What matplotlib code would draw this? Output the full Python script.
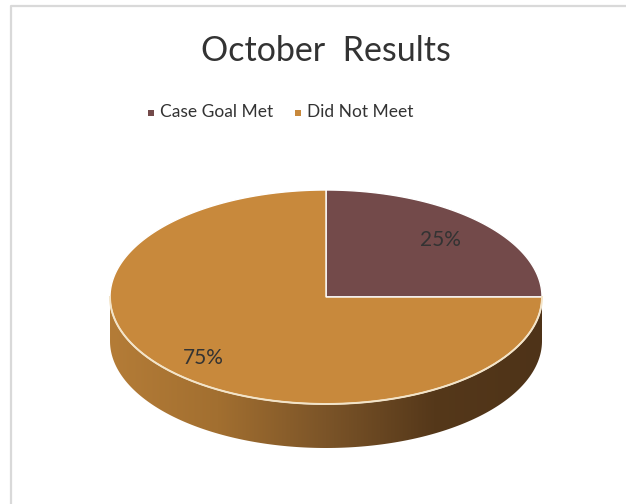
import numpy as np
import matplotlib.pyplot as plt
from matplotlib.patches import Polygon
from matplotlib.colors import LinearSegmentedColormap

# data
categories = ["Case Goal Met", "Did Not Meet"]
values = [25, 75]
slice_colors = ["#734A4A", "#C8893C"]
title = "October  Results"

# layout (pixels)
W, H = 626, 504
CX, CY = 326, 297
RX, RY = 216, 107
DEPTH = 44
FONT = ["Lato", "DejaVu Sans"]
TEXT = "#333333"

fig = plt.figure(figsize=(W / 100, H / 100), dpi=100)
ax = fig.add_axes([0, 0, 1, 1])
ax.set_xlim(0, W)
ax.set_ylim(H, 0)
ax.axis("off")


def rim(t, dy=0.0):
    return CX + RX * np.cos(t), CY - RY * np.sin(t) + dy


# chart frame
ax.plot([11, 11, W], [H, 6, 6], color="#D9D9D9", lw=1.6, solid_capstyle="butt")

# front side of the cylinder with a gradient
t = np.linspace(np.pi, 2 * np.pi, 200)
xt, yt = rim(t)
xb, yb = rim(t[::-1], DEPTH)
side = Polygon(np.column_stack([np.r_[xt, xb], np.r_[yt, yb]]),
               closed=True, facecolor="none", edgecolor="none")
ax.add_patch(side)
cmap = LinearSegmentedColormap.from_list(
    "side", ["#B47C37", "#A26F30", "#7B5428", "#55381A", "#4E3318"])
grad = np.linspace(0, 1, 256).reshape(1, -1)
im = ax.imshow(grad, cmap=cmap, aspect="auto",
               extent=[CX - RX, CX + RX, CY + RY + DEPTH + 2, CY - 2],
               interpolation="bilinear", zorder=1)
im.set_clip_path(side)

# top face wedges, clockwise from 12 o'clock
total = sum(values)
start = 90.0
label_pos = []
for val, col in zip(values, slice_colors):
    sweep = 360.0 * val / total
    th = np.radians(np.linspace(start, start - sweep, 200))
    px, py = rim(th)
    poly = Polygon(np.column_stack([np.r_[CX, px], np.r_[CY, py]]),
                   closed=True, facecolor=col, edgecolor="white", lw=1.0,
                   zorder=2)
    ax.add_patch(poly)
    mid = np.radians(start - sweep / 2)
    label_pos.append((mid, val))
    start -= sweep

# light rim line between top and side
ax.plot(xt, yt, color="#F3E4C8", lw=1.4, zorder=3)

for (mid, val), r in zip(label_pos, [0.75, 0.80]):
    lx = CX + RX * r * np.cos(mid)
    ly = CY - RY * r * np.sin(mid)
    ax.text(lx, ly, f"{val}%", ha="center", va="center", fontsize=15,
            color=TEXT, family=FONT, zorder=4)

# title
ax.text(326, 51, title, ha="center", va="center", fontsize=24.5,
        color=TEXT, family=FONT)

# legend
leg_x = [151, 298]
for x, cat, col in zip(leg_x, categories, slice_colors):
    ax.scatter([x], [113], marker="s", s=24, color=col, linewidths=0)
    ax.text(x + 9, 112, cat, ha="left", va="center", fontsize=12.5,
            color=TEXT, family=FONT)

fig.savefig("out.png", dpi=100, facecolor="white")
